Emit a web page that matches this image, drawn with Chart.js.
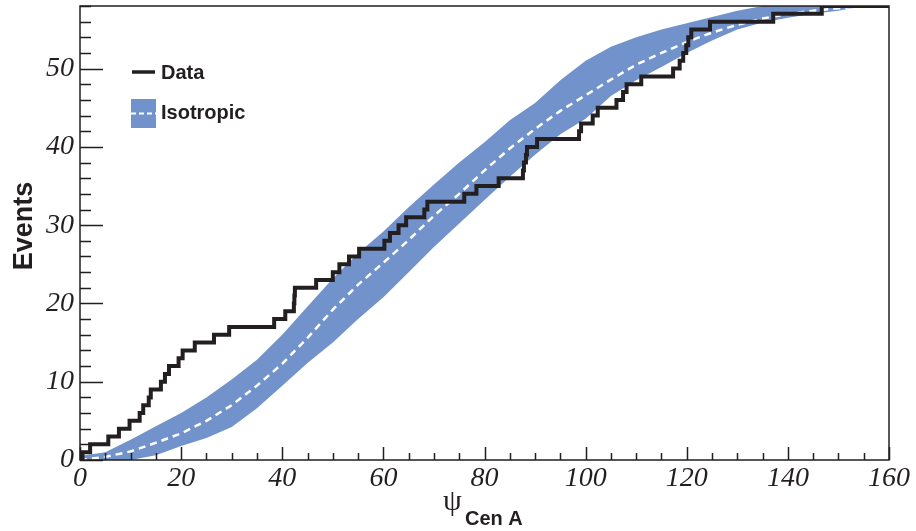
<!DOCTYPE html>
<html lang="en">

<head>
    <meta charset="UTF-8" />
    <title>Events vs psi Cen A</title>
    <script src="https://cdn.jsdelivr.net/npm/chart.js"></script>
    <style>
        body { margin: 0; background: #fff; }
    </style>
</head>

<body>
    <canvas id="cenChart" width="916" height="531"></canvas>

    <script>
        // ANGLE (DEG) WHERE EACH DATA EVENT ADDS ONE TO THE COUNT
        const eventAngles = [
            0.5, 2.0, 5.6, 7.7, 9.8, 11.8, 12.5, 13.6, 14.0, 16.0,
            16.8, 17.6, 19.5, 20.3, 22.7, 26.5, 29.5, 38.4, 40.6, 42.3,
            42.4, 42.5, 46.7, 50.0, 51.3, 53.2, 55.2, 60.2, 61.3, 63.0,
            64.5, 68.1, 68.7, 76.0, 78.4, 82.8, 87.6, 87.8, 88.2, 88.4,
            90.4, 98.7, 99.1, 101.4, 102.4, 106.1, 107.4, 108.1, 111.0, 117.3,
            118.6, 119.3, 119.9, 120.3, 120.9, 124.6, 137.1, 146.7
        ];

        // ISOTROPIC EXPECTATION AND ITS BAND
        const isoAngles = [0, 5, 10, 15, 20, 25, 30, 35, 40, 45, 50, 55, 60, 65, 70, 75, 80,
            85, 90, 95, 100, 105, 110, 115, 120, 125, 130, 135, 140, 145, 150, 155];
        const isoMean = [0, 0.4, 1.1, 2.2, 3.4, 5.0, 7.0, 9.5, 12.3, 15.6, 19.2, 22.4, 25.2, 28.1, 31.2, 34.0, 37.0,
            39.8, 42.3, 44.6, 46.6, 48.6, 50.5, 52.0, 53.4, 54.6, 55.6, 56.4, 57.0, 57.4, 57.7, 58.0];
        const isoLower = [0, 0, 0, 0.6, 1.8, 2.8, 4.2, 6.6, 9.5, 12.4, 15.0, 18.0, 20.8, 24.0, 27.2, 30.2, 33.2,
            36.2, 39.0, 41.6, 43.6, 46.5, 48.5, 50.2, 52.0, 53.6, 55.0, 55.9, 56.5, 57.0, 57.4, 58.0];
        const isoUpper = [0.5, 1.0, 2.6, 4.3, 6.0, 8.0, 10.3, 12.8, 16.0, 19.6, 23.2, 26.4, 29.2, 32.3, 35.2, 38.0, 40.6,
            43.4, 45.6, 48.5, 51.0, 52.8, 54.0, 55.0, 55.8, 56.6, 57.4, 58.0, 58.0, 58.0, 58.0, 58.0];

        const xRange = [0, 160];
        const yRange = [0, 58];

        const ink = "#231f20";
        const bandBlue = "#7192ca";

        // CUMULATIVE STEPS FROM THE EVENT LIST
        const dataPoints = [{ x: xRange[0], y: 0 }]
            .concat(eventAngles.map((a, i) => ({ x: a, y: i + 1 })))
            .concat([{ x: xRange[1], y: eventAngles.length }]);

        const toXY = arr => arr.map((v, i) => ({ x: isoAngles[i], y: v }));

        // ROOT-LIKE FRAME, INSIDE TICKS, TITLES AND LEGEND
        const rootStyle = {
            id: "rootStyle",
            afterDraw(chart) {
                const { ctx, chartArea: a, scales: { x, y } } = chart;
                ctx.save();
                ctx.strokeStyle = ink;
                ctx.lineWidth = 1.5;
                ctx.beginPath();
                for (let v = xRange[0]; v <= xRange[1]; v += 5) {
                    const px = Math.round(x.getPixelForValue(v)) + 0.5;
                    const len = v % 20 === 0 ? 13 : 7;
                    ctx.moveTo(px, a.bottom);
                    ctx.lineTo(px, a.bottom - len);
                }
                for (let v = yRange[0]; v <= yRange[1]; v += 2) {
                    const py = Math.round(y.getPixelForValue(v)) + 0.5;
                    const len = v % 10 === 0 ? 23 : 11;
                    ctx.moveTo(a.left, py);
                    ctx.lineTo(a.left + len, py);
                }
                ctx.stroke();
                ctx.strokeRect(a.left, a.top, a.right - a.left, a.bottom - a.top);

                // AXIS TITLES
                ctx.fillStyle = ink;
                ctx.textBaseline = "middle";
                ctx.textAlign = "center";
                ctx.save();
                ctx.translate(25, 226);
                ctx.rotate(-Math.PI / 2);
                ctx.font = "bold 27px 'Liberation Sans'";
                ctx.fillText("Events", 0, 0);
                ctx.restore();

                ctx.textAlign = "left";
                ctx.textBaseline = "alphabetic";
                ctx.font = "30px 'Liberation Serif'";
                ctx.fillText("\u03c8", 443, 510);
                ctx.font = "bold 20px 'Liberation Sans'";
                ctx.fillText("Cen A", 465, 525);

                // LEGEND
                ctx.lineWidth = 3.5;
                ctx.strokeStyle = ink;
                ctx.beginPath();
                ctx.moveTo(132, 72);
                ctx.lineTo(155, 72);
                ctx.stroke();

                ctx.fillStyle = bandBlue;
                ctx.fillRect(131, 99, 25, 29);
                ctx.strokeStyle = "#fff";
                ctx.lineWidth = 2;
                ctx.setLineDash([5, 3]);
                ctx.beginPath();
                ctx.moveTo(131, 113.5);
                ctx.lineTo(156, 113.5);
                ctx.stroke();
                ctx.setLineDash([]);

                ctx.fillStyle = ink;
                ctx.textBaseline = "middle";
                ctx.font = "bold 20px 'Liberation Sans'";
                ctx.fillText(chart.data.datasets[0].label, 161, 73);
                ctx.fillText(chart.data.datasets[1].label, 161, 113);
                ctx.restore();
            }
        };

        new Chart(document.getElementById("cenChart"), {
            type: "line",
            data: {
                datasets: [
                    {
                        label: "Data",
                        data: dataPoints,
                        stepped: "before",
                        borderColor: ink,
                        borderWidth: 4,
                        pointRadius: 0,
                        fill: false,
                        order: 0
                    },
                    {
                        label: "Isotropic",
                        data: toXY(isoMean),
                        borderColor: "#ffffff",
                        borderWidth: 2.5,
                        borderDash: [7, 5],
                        pointRadius: 0,
                        fill: false,
                        order: 1
                    },
                    {
                        label: "lower",
                        data: toXY(isoLower),
                        borderWidth: 0,
                        borderColor: bandBlue,
                        pointRadius: 0,
                        fill: false,
                        order: 3
                    },
                    {
                        label: "upper",
                        data: toXY(isoUpper),
                        borderWidth: 0,
                        borderColor: bandBlue,
                        backgroundColor: bandBlue,
                        pointRadius: 0,
                        fill: "-1",
                        order: 2
                    }
                ]
            },
            options: {
                responsive: false,
                animation: false,
                devicePixelRatio: 1,
                layout: { padding: { top: 6, right: 27, left: 0, bottom: 0 } },
                plugins: {
                    legend: { display: false },
                    tooltip: { enabled: false }
                },
                scales: {
                    x: {
                        type: "linear",
                        min: xRange[0],
                        max: xRange[1],
                        grid: { display: false, drawTicks: false },
                        border: { display: false },
                        ticks: {
                            stepSize: 20,
                            padding: 2,
                            maxRotation: 0,
                            color: ink,
                            font: { family: "Liberation Serif", style: "italic", size: 28 }
                        },
                        afterFit: s => { s.height = 71; s.paddingLeft = 0; s.paddingRight = 0; }
                    },
                    y: {
                        min: yRange[0],
                        max: yRange[1],
                        grid: { display: false, drawTicks: false },
                        border: { display: false },
                        ticks: {
                            stepSize: 10,
                            padding: 6,
                            color: ink,
                            font: { family: "Liberation Serif", style: "italic", size: 28 }
                        },
                        afterBuildTicks: s => { s.ticks = s.ticks.filter(t => t.value % 10 === 0); },
                        afterFit: s => { s.width = 80; s.paddingTop = 0; s.paddingBottom = 0; }
                    }
                }
            },
            plugins: [rootStyle]
        });
    </script>
</body>
</html>
